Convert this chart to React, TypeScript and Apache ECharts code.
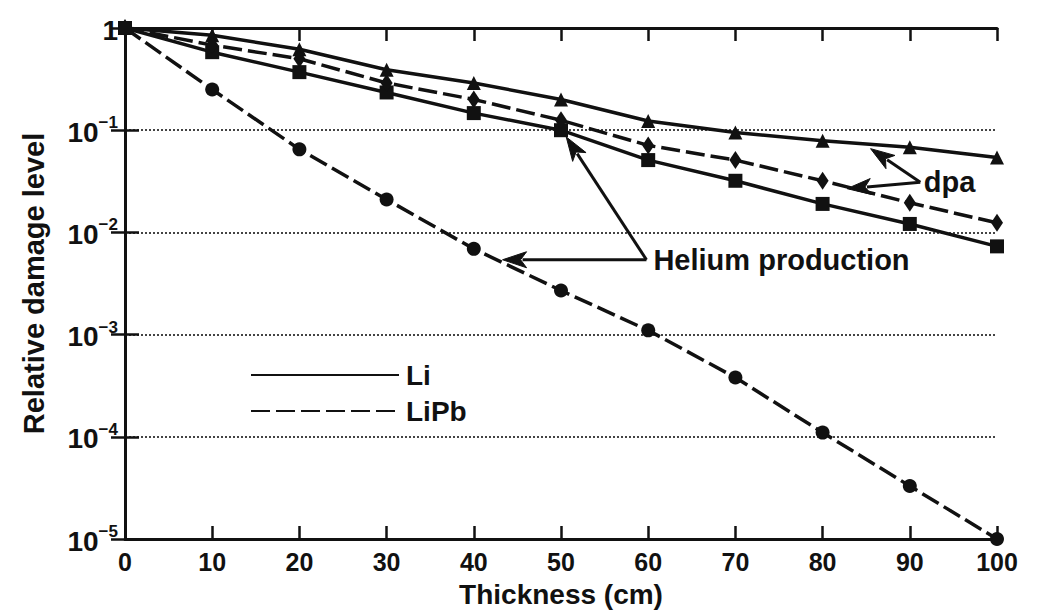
import React, { useEffect, useRef } from "react";
import * as echarts from "echarts";

// ---- data ----
const thickness = [0, 10, 20, 30, 40, 50, 60, 70, 80, 90, 100];
const liDpa = [1, 0.85, 0.62, 0.39, 0.29, 0.2, 0.123, 0.095, 0.079, 0.068, 0.054];
const liHelium = [1, 0.58, 0.37, 0.234, 0.147, 0.1, 0.051, 0.032, 0.019, 0.0121, 0.0073];
const liPbDpa = [1, 0.68, 0.5, 0.29, 0.2, 0.125, 0.071, 0.051, 0.032, 0.0195, 0.0124];
const liPbHelium = [1, 0.25, 0.065, 0.021, 0.0069, 0.0027, 0.0011, 0.00038, 0.00011, 0.000033, 0.00001];
const legendNames = ["Li", "LiPb"];
const xAxisTitle = "Thickness (cm)";
const yAxisTitle = "Relative damage level";

// annotations, in data coordinates
const dpaLabel = { text: "dpa", at: [91.6, 0.031] };
const dpaArrows = [
  { from: [91.2, 0.031], to: [85.5, 0.066] },
  { from: [91.2, 0.031], to: [82.8, 0.0268] },
];
const heliumLabel = { text: "Helium production", at: [60.6, 0.0054] };
const heliumArrows = [
  { from: [59.8, 0.0054], to: [50.6, 0.086] },
  { from: [59.8, 0.0054], to: [43.3, 0.0054] },
];

const FONT = '"Liberation Sans", Arial, Helvetica, sans-serif';
const INK = "#111";

function pairs(ys: number[]) {
  return thickness.map((t, i) => [t, ys[i]]);
}

export default function App() {
  const ref = useRef<HTMLDivElement>(null);
  useEffect(() => {
    if (!ref.current) return;
    const chart = echarts.init(ref.current, null, { renderer: "svg" });
    const dashed = [19, 6];
    const lineBase = (name: string, data: number[], symbol: string, size: any, solid: boolean) => ({
      name,
      type: "line",
      data: pairs(data),
      symbol,
      symbolSize: size,
      showAllSymbol: true,
      itemStyle: { color: INK },
      lineStyle: { color: INK, width: 3.5, type: solid ? "solid" : dashed },
      z: 5,
    });
    const axisLine = { show: true, lineStyle: { color: INK, width: 3 } };
    const tick = { show: true, inside: true, length: 13, lineStyle: { color: INK, width: 2.5 } };
    const option: any = {
      animation: false,
      backgroundColor: "#fff",
      grid: { left: 125, right: 46, top: 28, bottom: 73 },
      legend: {
        left: 245,
        top: 356,
        orient: "vertical",
        data: legendNames,
        itemWidth: 148,
        itemHeight: 14,
        itemGap: 8,
        itemStyle: { opacity: 0 },
        textStyle: { fontFamily: FONT, fontWeight: "bold", fontSize: 28, color: INK, padding: [0, 0, 0, 2] },
      },
      xAxis: [
        {
          type: "value",
          min: 0,
          max: 100,
          interval: 10,
          position: "bottom",
          name: xAxisTitle,
          nameLocation: "middle",
          nameGap: 41,
          nameTextStyle: { fontFamily: FONT, fontWeight: "bold", fontSize: 28, color: INK },
          axisLine,
          axisTick: tick,
          axisLabel: { margin: 10, fontFamily: FONT, fontWeight: "bold", fontSize: 25, color: INK },
          splitLine: { show: false },
        },
        {
          type: "value",
          min: 0,
          max: 100,
          interval: 10,
          position: "top",
          axisLine,
          axisTick: tick,
          axisLabel: { show: false },
          splitLine: { show: false },
        },
      ],
      yAxis: [
        {
          type: "log",
          logBase: 10,
          min: 1e-5,
          max: 1,
          position: "left",
          name: yAxisTitle,
          nameLocation: "middle",
          nameGap: 77,
          nameRotate: 90,
          nameTextStyle: { fontFamily: FONT, fontWeight: "bold", fontSize: 29, color: INK },
          axisLine,
          axisTick: { ...tick, length: 14 },
          axisLabel: {
            margin: 7,
            formatter: (v: number) => {
              const e = Math.round(Math.log10(v));
              return e === 0 ? "{b|1}" : "{b|10}{s|\u2212" + Math.abs(e) + "}";
            },
            rich: {
              b: { fontFamily: FONT, fontWeight: "bold", fontSize: 28, color: INK, lineHeight: 32, verticalAlign: "bottom" },
              s: { fontFamily: FONT, fontWeight: "bold", fontSize: 17, color: INK, lineHeight: 18, verticalAlign: "top" },
            },
          },
          splitLine: { show: true, lineStyle: { color: "#444", width: 2, type: [2, 2] } },
        },
        {
          type: "log",
          logBase: 10,
          min: 1e-5,
          max: 1,
          position: "right",
          axisLine,
          axisTick: { ...tick, length: 14 },
          axisLabel: { show: false },
          splitLine: { show: false },
        },
      ],
      series: [
        { name: "Li", type: "line", data: [], symbol: "none", lineStyle: { color: INK, width: 3.5, type: "solid" }, itemStyle: { color: INK } },
        { name: "LiPb", type: "line", data: [], symbol: "none", lineStyle: { color: INK, width: 3.5, type: dashed }, itemStyle: { color: INK } },
        lineBase("Li dpa", liDpa, "triangle", 14, true),
        lineBase("Li helium production", liHelium, "rect", 14, true),
        lineBase("LiPb dpa", liPbDpa, "diamond", [12, 18], false),
        lineBase("LiPb helium production", liPbHelium, "circle", 14, false),
      ],
    };
    chart.setOption(option);

    const px = (p: number[]) => chart.convertToPixel({ xAxisIndex: 0, yAxisIndex: 0 }, p) as number[];
    const arrow = (a: { from: number[]; to: number[] }) => {
      const f = px(a.from);
      const t = px(a.to);
      const dx = t[0] - f[0];
      const dy = t[1] - f[1];
      const len = Math.sqrt(dx * dx + dy * dy);
      const ux = dx / len;
      const uy = dy / len;
      const L = 24;
      const W = 8;
      const bx = t[0] - ux * L;
      const by = t[1] - uy * L;
      return [
        { type: "polyline", shape: { points: [f, [bx + ux * 4, by + uy * 4]] }, style: { stroke: INK, lineWidth: 3, fill: null }, z: 10 },
        {
          type: "polygon",
          shape: { points: [t, [bx - uy * W, by + ux * W], [bx + ux * 6, by + uy * 6], [bx + uy * W, by - ux * W]] },
          style: { fill: INK, stroke: INK, lineWidth: 1 },
          z: 10,
        },
      ];
    };
    const label = (l: { text: string; at: number[] }) => {
      const p = px(l.at);
      return {
        type: "text",
        x: p[0],
        y: p[1],
        z: 10,
        style: {
          text: l.text,
          fontFamily: FONT,
          fontWeight: "bold",
          fontSize: 29,
          fill: INK,
          align: "left",
          verticalAlign: "middle",
          textAlign: "left",
          textVerticalAlign: "middle",
        },
      };
    };
    const graphics: any[] = [];
    [...dpaArrows, ...heliumArrows].forEach((a) => graphics.push(...arrow(a)));
    graphics.push(label(dpaLabel), label(heliumLabel));
    chart.setOption({ graphic: graphics });

    return () => chart.dispose();
  }, []);
  return (
    <div
      ref={ref}
      style={{ position: "fixed", left: 0, top: 0, width: 1043, height: 613, background: "#fff" }}
    />
  );
}
